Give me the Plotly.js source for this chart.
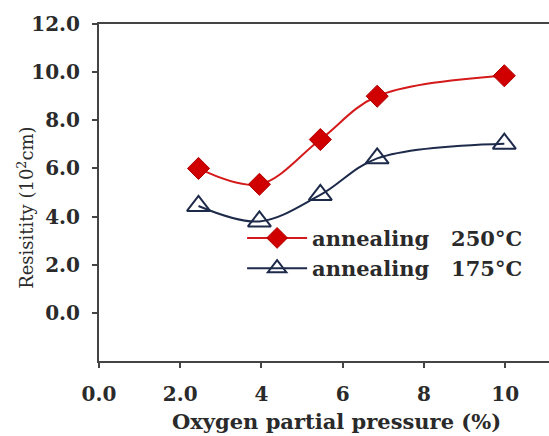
<!DOCTYPE html>
<html>
<head>
<meta charset="utf-8">
<script src="https://cdn.plot.ly/plotly-3.0.1.min.js"></script>
<style>html,body{margin:0;padding:0;background:#fff;}#chart{width:549px;height:436px;}</style>
</head>
<body>
<div id="chart"></div>
<script>
// Data
const pressure250 = [2.45, 3.95, 5.45, 6.85, 9.98];
const resist250 = [6.0, 5.34, 7.2, 9.0, 9.85];
const pressure175 = [2.45, 3.95, 5.45, 6.85, 9.98];
const resist175 = [4.44, 3.8, 4.9, 6.42, 7.03];
const seriesNames = ["annealing   250°C", "annealing   175°C"];
const xTickVals = [0, 2, 4, 6, 8, 10];
const xTickText = ["0.0", "2.0", "4", "6", "8", "10"];
const yTickVals = [0, 2, 4, 6, 8, 10, 12];
const yTickText = ["0.0", "2.0", "4.0", "6.0", "8.0", "10.0", "12.0"];

const serif = "DejaVu Serif, Liberation Serif, serif";
const txt = "#2a2a2a";

const traces = [
  {
    x: pressure250, y: resist250, name: seriesNames[0], type: "scatter", mode: "lines+markers",
    line: {color: "#d41a1a", width: 2, shape: "spline", smoothing: 1},
    marker: {symbol: "diamond", size: 17, color: "#d00000", line: {color: "#b00000", width: 1}}
  },
  {
    x: pressure175, y: resist175, name: seriesNames[1], type: "scatter", mode: "lines+markers",
    line: {color: "#1d2a4a", width: 2, shape: "spline", smoothing: 1},
    marker: {symbol: "triangle-up-open", size: 20, color: "#1d2a4a", line: {color: "#1d2a4a", width: 2}}
  }
];

const layout = {
  width: 549, height: 436,
  margin: {l: 99, r: 0, t: 24, b: 75},
  paper_bgcolor: "#fff", plot_bgcolor: "#fff",
  showlegend: true,
  legend: {
    x: 0.318, y: 0.425, xanchor: "left", yanchor: "top",
    bgcolor: "rgba(0,0,0,0)", borderwidth: 0,
    font: {family: serif, size: 21, color: txt, weight: "bold"},
    itemwidth: 60, tracegroupgap: 0
  },
  xaxis: {
    range: [0, 11.08], tickmode: "array", tickvals: xTickVals, ticktext: xTickText,
    showgrid: false, zeroline: false, showline: true, linecolor: "#444", linewidth: 2,
    mirror: true, ticks: "outside", ticklen: 5, tickwidth: 2, tickcolor: "#444",
    ticklabelstandoff: 9,
    tickfont: {family: serif, size: 20, color: txt, weight: "bold"}
  },
  yaxis: {
    range: [-2, 12], tickmode: "array", tickvals: yTickVals, ticktext: yTickText,
    showgrid: false, zeroline: false, showline: true, linecolor: "#444", linewidth: 2,
    ticks: "outside", ticklen: 5, tickwidth: 2, tickcolor: "#444",
    ticklabelstandoff: 8,
    tickfont: {family: serif, size: 20, color: txt, weight: "bold"}
  },
  annotations: [
    {text: "Resisitity (10<sup>2</sup>cm)", xref: "paper", yref: "paper", x: -0.164, y: 0.455,
     xanchor: "center", yanchor: "middle", textangle: -90, showarrow: false,
     font: {family: serif, size: 18, color: txt}},
    {text: "Oxygen partial pressure (%)", xref: "paper", yref: "paper", x: 0.527, y: -0.181,
     xanchor: "center", yanchor: "middle", showarrow: false,
     font: {family: serif, size: 21, color: txt, weight: "bold"}}
  ]
};

Plotly.newPlot("chart", traces, layout, {displayModeBar: false, staticPlot: true});
</script>
</body>
</html>
